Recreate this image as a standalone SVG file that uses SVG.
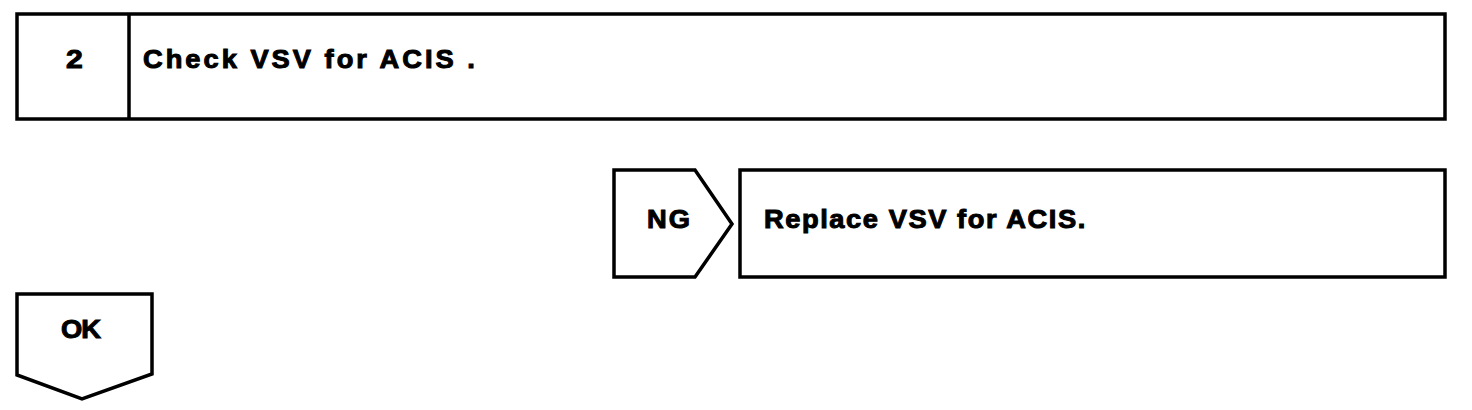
<svg xmlns="http://www.w3.org/2000/svg" width="1472" height="410" viewBox="0 0 1472 410">
<style>
.box{fill:#fff;stroke:#000;stroke-width:3.5;stroke-linejoin:miter}
.t{font-family:"Liberation Sans",Arial,sans-serif;font-weight:bold;font-size:26px;fill:#000;stroke:#000;stroke-width:1}
</style>
<rect width="1472" height="410" fill="#fff"/>
<g id="step2">
<rect class="box" x="17" y="14" width="1428" height="105"/>
<line x1="129" y1="14" x2="129" y2="119" stroke="#000" stroke-width="3.5"/>
<text class="t" transform="translate(66,68) scale(1.05,1)" textLength="16" lengthAdjust="spacingAndGlyphs">2</text>
<text class="t" transform="translate(143,68) scale(1.05,1)" textLength="316" lengthAdjust="spacing">Check VSV for ACIS .</text>
</g>
<g id="ng">
<polygon class="box" points="614,170 695,170 732,224 695,277 614,277"/>
<text class="t" transform="translate(647,228) scale(1.05,1)" textLength="41" lengthAdjust="spacing">NG</text>
</g>
<g id="replace">
<rect class="box" x="740" y="170" width="705" height="107"/>
<text class="t" transform="translate(764,228) scale(1.05,1)" textLength="306" lengthAdjust="spacing">Replace VSV for ACIS.</text>
</g>
<g id="ok">
<polygon class="box" points="17,294 152,294 152,374 82,399 17,375"/>
<text class="t" transform="translate(61,338) scale(1.05,1)" textLength="38" lengthAdjust="spacing">OK</text>
</g>
<g id="connectors"></g>
</svg>
